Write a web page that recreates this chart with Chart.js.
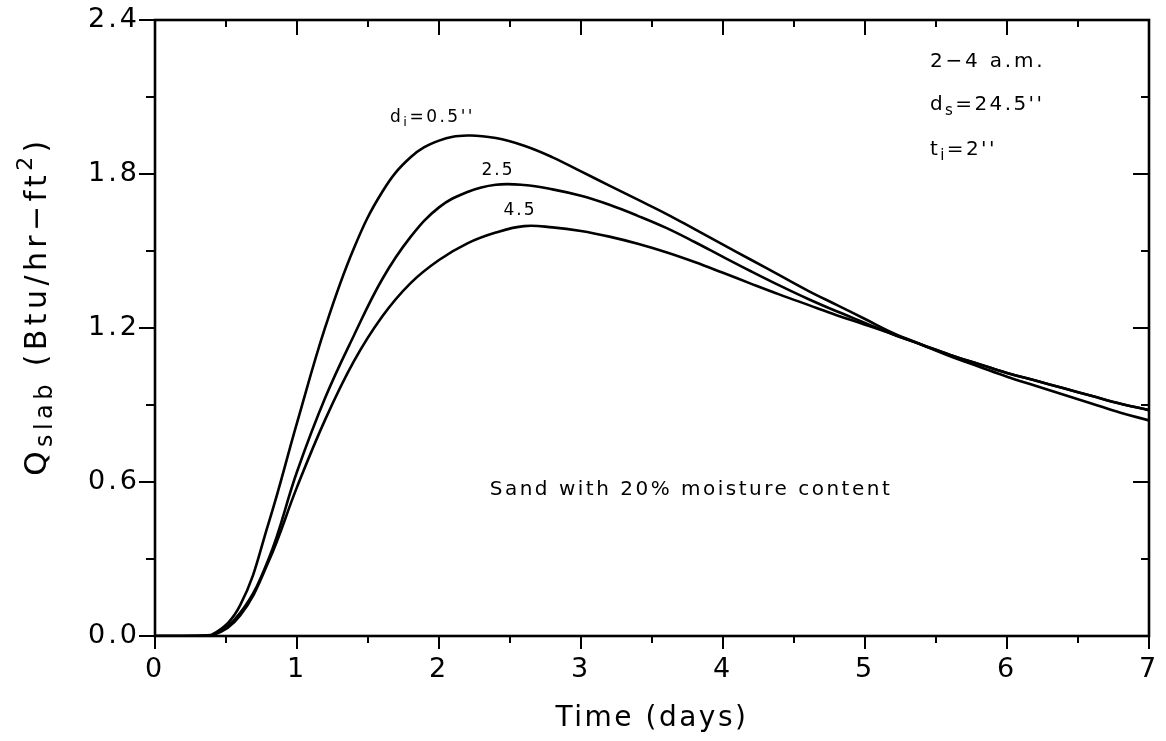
<!DOCTYPE html>
<html>
<head>
<meta charset="utf-8">
<script src="https://cdn.jsdelivr.net/npm/chart.js@4.4.1/dist/chart.umd.min.js"></script>
<style>
  html, body { margin: 0; padding: 0; background: #fff; }
  #c { display: block; }
</style>
</head>
<body>
<canvas id="c" width="1166" height="741"></canvas>
<script>
// ---- data ----
const timeDays = [0, 0.2, 0.4, 0.6, 0.8, 1.0, 1.2, 1.4, 1.6, 1.8, 2.0, 2.2, 2.4, 2.6, 2.8, 3.0, 3.2, 3.4,
                  3.6, 3.8, 4.0, 4.2, 4.4, 4.6, 4.8, 5.0, 5.2, 5.4, 5.6, 5.8, 6.0, 6.2, 6.4, 6.6, 6.8, 7.0];
const qDi05 = [0, 0, 0.005, 0.12, 0.44, 0.83, 1.205, 1.51, 1.73, 1.865, 1.93, 1.95, 1.94, 1.91, 1.865, 1.81, 1.755, 1.70,
               1.645, 1.585, 1.525, 1.465, 1.405, 1.345, 1.29, 1.235, 1.18, 1.135, 1.09, 1.05, 1.01, 0.975, 0.94, 0.905, 0.87, 0.84];
const qDi25 = [0, 0, 0.003, 0.09, 0.30, 0.64, 0.93, 1.17, 1.39, 1.555, 1.67, 1.73, 1.758, 1.757, 1.74, 1.715, 1.68, 1.637,
               1.59, 1.535, 1.477, 1.42, 1.365, 1.313, 1.265, 1.22, 1.175, 1.135, 1.095, 1.06, 1.025, 0.995, 0.965, 0.935, 0.905, 0.88];
const qDi45 = [0, 0, 0.002, 0.08, 0.29, 0.58, 0.845, 1.07, 1.245, 1.375, 1.465, 1.53, 1.572, 1.597, 1.592, 1.578, 1.556, 1.528,
               1.495, 1.457, 1.415, 1.372, 1.33, 1.29, 1.25, 1.213, 1.175, 1.135, 1.095, 1.06, 1.025, 0.995, 0.965, 0.935, 0.905, 0.88];
const xTickValues = [0, 1, 2, 3, 4, 5, 6, 7];
const yTickValues = [0.0, 0.6, 1.2, 1.8, 2.4];
const xTitle = "Time (days)";

const FONT = "'DejaVu Sans', sans-serif";

function series(vals) { return timeDays.map((t, i) => ({ x: t, y: vals[i] })); }
function lineDs(label, vals) {
  return { label, data: series(vals), borderColor: '#000', borderWidth: 2.6, pointRadius: 0,
           fill: false, tension: 0.4 };
}

// draw text made of parts: [text, size, dy]
function drawParts(ctx, parts, x, y, spacing, align) {
  let total = 0;
  const widths = parts.map(p => { ctx.font = p[1] + 'px ' + FONT; ctx.letterSpacing = spacing + 'px'; const w = ctx.measureText(p[0]).width; total += w; return w; });
  let cx = align === 'center' ? x - total / 2 : x;
  parts.forEach((p, i) => {
    ctx.font = p[1] + 'px ' + FONT;
    ctx.letterSpacing = spacing + 'px';
    ctx.fillText(p[0], cx, y + (p[2] || 0));
    cx += widths[i];
  });
}

const framePlugin = {
  id: 'frameTicks',
  beforeDraw(chart) {
    chart.ctx.letterSpacing = '3px';
  },
  afterDraw(chart) {
    const ctx = chart.ctx;
    const a = chart.chartArea;
    const xs = chart.scales.x, ys = chart.scales.y;
    ctx.save();
    ctx.strokeStyle = '#000';
    ctx.lineWidth = 2.6;
    ctx.strokeRect(a.left, a.top, a.right - a.left, a.bottom - a.top);
    ctx.lineWidth = 2;
    ctx.beginPath();
    // x ticks (bottom outward/down, top inward/down)
    xs.ticks.forEach((t, i) => {
      const px = xs.getPixelForValue(t.value);
      ctx.moveTo(px, a.bottom); ctx.lineTo(px, a.bottom + 13);
      ctx.moveTo(px, a.top); ctx.lineTo(px, a.top + 15);
      if (i < xs.ticks.length - 1) {
        const mx = xs.getPixelForValue(t.value + 0.5);
        ctx.moveTo(mx, a.bottom); ctx.lineTo(mx, a.bottom + 7);
        ctx.moveTo(mx, a.top); ctx.lineTo(mx, a.top + 7);
      }
    });
    // y ticks (left outward, right inward) — all pointing left
    ys.ticks.forEach((t, i) => {
      const py = ys.getPixelForValue(t.value);
      ctx.moveTo(a.left, py); ctx.lineTo(a.left - 16, py);
      ctx.moveTo(a.right, py); ctx.lineTo(a.right - 16, py);
      if (i < ys.ticks.length - 1) {
        const my = ys.getPixelForValue(t.value + 0.3);
        ctx.moveTo(a.left, my); ctx.lineTo(a.left - 9, my);
        ctx.moveTo(a.right, my); ctx.lineTo(a.right - 8, my);
      }
    });
    ctx.stroke();

    ctx.fillStyle = '#000';
    ctx.textBaseline = 'middle';
    ctx.textAlign = 'left';
    // x title
    drawParts(ctx, [[xTitle, 28, 0]], (a.left + a.right) / 2, 719, 2.5, 'center');
    // y title (rotated)
    ctx.save();
    ctx.translate(38, 306);
    ctx.rotate(-Math.PI / 2);
    drawParts(ctx, [["Q", 31, 0], ["slab", 24, 8], [" (Btu/hr\u2212ft", 30, 0], ["2", 22, -12], [")", 30, 0]], 0, 0, 4.4, 'center');
    ctx.restore();

    // annotations
    drawParts(ctx, [["2\u22124 a.m.", 20, 0]], 930, 62, 2.8, 'left');
    drawParts(ctx, [["d", 20, 0], ["s", 15, 6], ["=24.5''", 20, 0]], 930, 105, 2.4, 'left');
    drawParts(ctx, [["t", 20, 0], ["i", 15, 6], ["=2''", 20, 0]], 930, 150, 2.4, 'left');
    drawParts(ctx, [["d", 17, 0], ["i", 13, 5], ["=0.5''", 17, 0]], 390, 118, 2.5, 'left');
    drawParts(ctx, [["2.5", 17, 0]], 498, 171, 2, 'center');
    drawParts(ctx, [["4.5", 17, 0]], 520, 211, 2, 'center');
    drawParts(ctx, [["Sand with 20% moisture content", 20, 0]], 691, 490, 2.5, 'center');
    ctx.restore();
  }
};

new Chart(document.getElementById('c'), {
  type: 'line',
  data: { datasets: [lineDs("d_i=0.5''", qDi05), lineDs('2.5', qDi25), lineDs('4.5', qDi45)] },
  options: {
    responsive: false,
    devicePixelRatio: 1,
    animation: false,
    events: [],
    layout: { padding: { top: 20, right: 17, left: 0, bottom: 0 } },
    plugins: { legend: { display: false }, tooltip: { enabled: false } },
    scales: {
      x: {
        type: 'linear', min: 0, max: 7,
        afterBuildTicks: s => { s.ticks = xTickValues.map(v => ({ value: v })); },
        afterFit: s => { s.height = 105; s.paddingLeft = 0; s.paddingRight = 0; },
        grid: { display: false, drawTicks: false },
        border: { display: false },
        ticks: { color: '#000', padding: 18, font: { family: FONT, size: 27 }, callback: v => String(v) }
      },
      y: {
        type: 'linear', min: 0, max: 2.4,
        afterBuildTicks: s => { s.ticks = yTickValues.map(v => ({ value: v })); },
        afterFit: s => { s.width = 155; s.paddingTop = 0; s.paddingBottom = 0; },
        grid: { display: false, drawTicks: false },
        border: { display: false },
        ticks: { color: '#000', padding: 15, font: { family: FONT, size: 27 }, callback: v => Number(v).toFixed(1) }
      }
    }
  },
  plugins: [framePlugin]
});
</script>
</body>
</html>
